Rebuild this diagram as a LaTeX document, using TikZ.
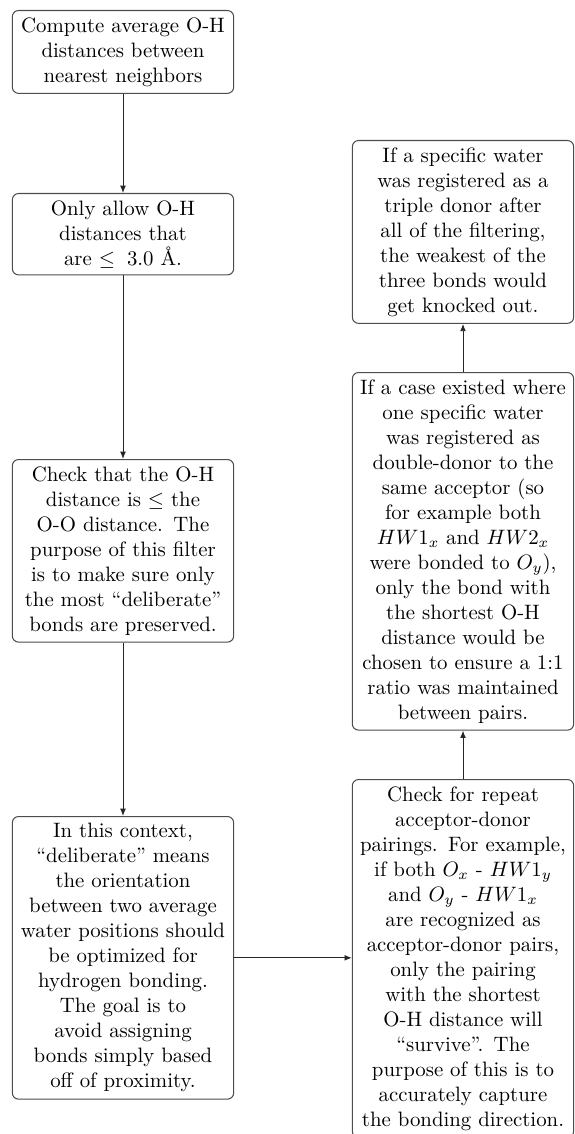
\documentclass[tikz,border=0pt]{standalone}
\usetikzlibrary{arrows.meta}
\begin{document}
\begin{tikzpicture}[x=0.48pt,y=-0.48pt,
  box/.style={draw=black!70, line width=0.5pt, rounded corners=3pt, text width=3.5cm, align=center, inner sep=3.33pt, anchor=north, font=\normalsize},
  arr/.style={-{Latex[length=3.5pt,width=2.8pt]}, line width=0.45pt, draw=black!85}]
\useasboundingbox (0,0) rectangle (574,1134);
\node[box] (b1) at (123,10) {Compute average O-H distances between nearest neighbors};
\node[box] (b2) at (123,193) {Only allow O-H\\ distances that\\ are $\leq 3.0$ \AA.};
\node[box] (b3) at (123,459) {Check that the O-H distance is $\leq$ the O-O distance.  The purpose of this filter is to make sure only the most ``deliberate'' bonds are preserved.};
\node[box] (b4) at (123,816) {In this context, ``deliberate'' means the orientation between two average water positions should be optimized for hydrogen bonding. The goal is to avoid assigning bonds simply based off of proximity.};
\node[box] (r1) at (463,140) {If a specific water was registered as a triple donor after all of the filtering, the weakest of the three bonds would get knocked out.};
\node[box] (r2) at (463,372) {If a case existed where one specific water was registered as double-donor to the same acceptor (so for example both $HW1_x$ and $HW2_x$ were bonded to $O_y$), only the bond with the shortest O-H distance would be chosen to ensure a 1:1 ratio was maintained between pairs.};
\node[box] (r3) at (463,779) {Check for repeat acceptor-donor pairings.  For example, if both $O_x$ - $HW1_y$ and $O_y$ - $HW1_x$ are recognized as acceptor-donor pairs, only the pairing with the shortest O-H distance will ``survive''.  The purpose of this is to accurately capture the bonding direction.};
\draw[arr] (b1) -- (b2);
\draw[arr] (b2) -- (b3);
\draw[arr] (b3) -- (b4);
\draw[arr] (b4.east) -- (b4.east -| r3.west);
\draw[arr] (r3) -- (r2);
\draw[arr] (r2) -- (r1);
\end{tikzpicture}
\end{document}
